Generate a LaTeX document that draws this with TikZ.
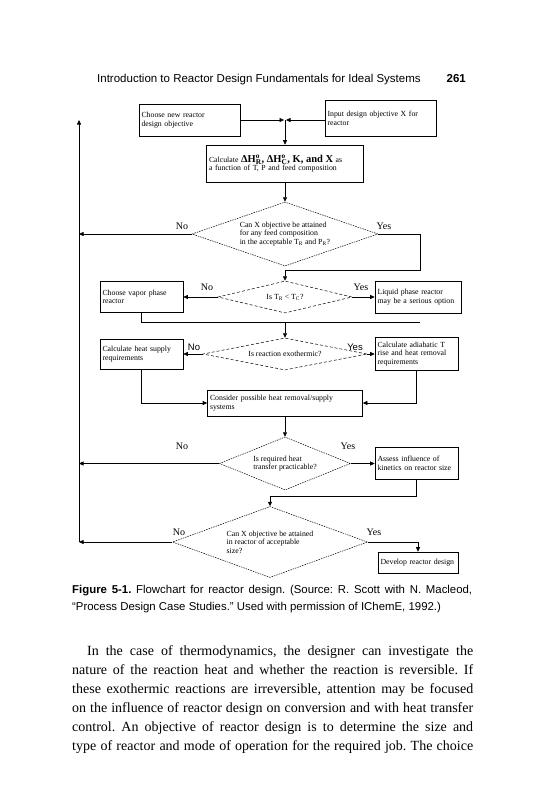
\documentclass[tikz,border=0pt]{standalone}
\usepackage{fontspec}
\setmainfont{Liberation Serif}
\setsansfont{Liberation Sans}
\usetikzlibrary{positioning,arrows.meta,shapes.geometric}
\newcommand{\boxtxt}{\fontsize{7.8}{8.6}\selectfont}
\newcommand{\bigtxt}{\fontsize{10.5}{12}\selectfont\bfseries}

\begin{document}
\begin{tikzpicture}[
  x=1pt, y=-1pt,
  font=\boxtxt,
  box/.style  ={draw, line width=0.6pt, align=left, inner sep=2.5pt},
  dec/.style  ={draw, diamond, line width=0.5pt, dash pattern=on 1.5pt off 1pt, inner sep=0pt, align=left},
  decb/.style ={dec, dash pattern=on 3pt off 2pt},
  ans/.style  ={inner sep=0pt, font=\fontsize{10}{12}\selectfont},
  ansf/.style ={inner sep=0pt, font=\sffamily\fontsize{9.5}{11}\selectfont},
  arr/.style  ={-{Triangle[length=4.5pt,width=4pt]}, line width=0.6pt},
  ln/.style   ={line width=0.6pt}
]
\useasboundingbox (0,0) rectangle (541,800);

% ---- running head ----
\node[anchor=base west, inner sep=0pt, font=\sffamily\fontsize{11.5}{13}\selectfont] (head) at (97,82.5)
  {Introduction to Reactor Design Fundamentals for Ideal Systems};
\node[anchor=base east, inner sep=0pt, font=\sffamily\bfseries\fontsize{11.5}{13}\selectfont] (pgno) at (466,82.5) {261};

% ---- objective and thermodynamics ----
\node[box, text width=96pt, minimum height=32pt] (newobj) at (189.5,120) {Choose new reactor\\design objective};
\node[box, text width=106pt, minimum height=36pt] (inobj) at (380.5,118) {Input design objective X for\\reactor};
\coordinate (join) at (285,120);
\node[box, text width=152pt, minimum height=37pt] (calc) at (285,163.5)
  {Calculate {\bigtxt ΔH$^{\mathbf{o}}_{\mathbf{R}}$, ΔH$^{\mathbf{o}}_{\mathbf{C}}$, K, and X} as\\a function of T, P and feed composition};
\draw[arr] (newobj.east) -- ([xshift=-1pt]join);
\draw[arr] (inobj.west |- join) -- ([xshift=1pt]join);
\draw[arr] (join) -- (calc);

% ---- can X be attained? ----
\node[dec, aspect=3, minimum width=186pt, minimum height=64pt] (attain) at (285,234)
  {Can X objective be attained\\for any feed composition\\in the acceptable T$_{\rm R}$ and P$_{\rm R}$?};
\node[ans] (no1) at (182,226) {No};
\node[ans] (yes1) at (384,226) {Yes};
\draw[arr] (calc) -- (attain);

% feedback line on the left
\coordinate (fbtop) at (79,120);
\coordinate (fbbot) at (79,542);
\draw[arr] (fbbot) -- (fbtop);
\draw[arr] (attain.west) -- (attain.west -| fbtop);

\coordinate (r1) at (420,270);
\coordinate (m1) at (285,270);
\draw[ln] (attain.east) -| (r1) -- (m1);

% ---- phase choice ----
\node[decb, aspect=4, minimum width=134pt, minimum height=32pt] (phase) at (285,297) {Is T$_{\rm R}$ < T$_{\rm C}$?};
\node[ans] (no2) at (207,287) {No};
\node[ans] (yes2) at (361,287) {Yes};
\node[box, text width=78pt, minimum height=31pt] (vapor) at (141.5,297) {Choose vapor phase\\reactor};
\node[box, text width=81pt, minimum height=32pt] (liquid) at (418,297) {Liquid phase reactor\\may be a serious option};
\draw[arr] (m1) -- (phase);
\draw[arr] (phase.west) -- (vapor);
\draw[arr] (phase.east) -- (liquid);

\coordinate (m2) at (285,322);
\coordinate (r2) at (420,322);
\draw[ln] (vapor.south) -- (vapor.south |- m2) -- (r2);

% ---- heat of reaction ----
\node[decb, aspect=5, minimum width=164pt, minimum height=32pt] (exo) at (285,354) {Is reaction exothermic?};
\node[ansf] (no3) at (194,347) {No};
\node[ansf] (yes3) at (355,347) {Yes};
\node[box, text width=78pt, minimum height=30pt] (supply) at (141.5,354) {Calculate heat supply\\requirements};
\node[box, text width=78pt, minimum height=33pt] (removal) at (416.5,354) {Calculate adiabatic T\\rise and heat removal\\requirements};
\draw[arr] (m2) -- (exo);
\draw[arr] (exo.west) -- (supply);
\draw[arr] (exo.east) -- (removal);

\node[box, text width=150pt, minimum height=26pt] (hx) at (285,403) {Consider possible heat removal/supply\\systems};
\draw[arr] (supply.south) |- (hx.west);
\draw[arr] (removal.south) |- (hx.east);

% ---- heat transfer ----
\node[dec, aspect=2.5, minimum width=131pt, minimum height=53pt] (prac) at (285,463.5) {Is required heat\\transfer practicable?};
\node[ans] (no4) at (182,446) {No};
\node[ans] (yes4) at (348,446) {Yes};
\node[box, text width=78pt, minimum height=32pt] (kin) at (416.5,463.5) {Assess influence of\\kinetics on reactor size};
\draw[arr] (hx) -- (prac);
\draw[arr] (prac.west) -- (prac.west -| fbtop);
\draw[arr] (prac.east) -- (kin);

\coordinate (m4) at (270,496);
\draw[ln] (kin.south) |- (m4);

% ---- reactor size ----
\node[dec, aspect=2.75, minimum width=195pt, minimum height=71pt] (size) at (270,542)
  {Can X objective be attained\\in reactor of acceptable\\size?};
\node[ans] (no5) at (179,532) {No};
\node[ans] (yes5) at (374,532) {Yes};
\node[box, text width=75pt, minimum height=21pt] (design) at (418,562.5) {Develop reactor design};
\draw[arr] (m4) -- (size);
\draw[arr] (size.west) -- (size.west -| fbtop);
\draw[arr] (size.east) -| (design.north);

% ---- caption and text ----
\node[anchor=north west, inner sep=0pt, text width=400pt, align=justify,
      font=\sffamily\fontsize{11.4}{17}\selectfont] (cap) at (72,585)
  {\frenchspacing\textbf{Figure 5-1.} Flowchart for reactor design. (Source: R. Scott with N. Macleod,\linebreak
   “Process Design Case Studies.” Used with permission of IChemE, 1992.)};
\node[anchor=north west, inner sep=0pt, text width=401pt, align=justify,
      font=\fontsize{14}{19}\selectfont] (body) at (72,645.5)
  {\frenchspacing\parfillskip=0pt\hspace*{15pt}In the case of thermodynamics, the designer can investigate the\linebreak
   nature of the reaction heat and whether the reaction is reversible. If\linebreak
   these exothermic reactions are irreversible, attention may be focused\linebreak
   on the influence of reactor design on conversion and with heat transfer\linebreak
   control. An objective of reactor design is to determine the size and\linebreak
   type of reactor and mode of operation for the required job. The choice\par};

\end{tikzpicture}
\end{document}
